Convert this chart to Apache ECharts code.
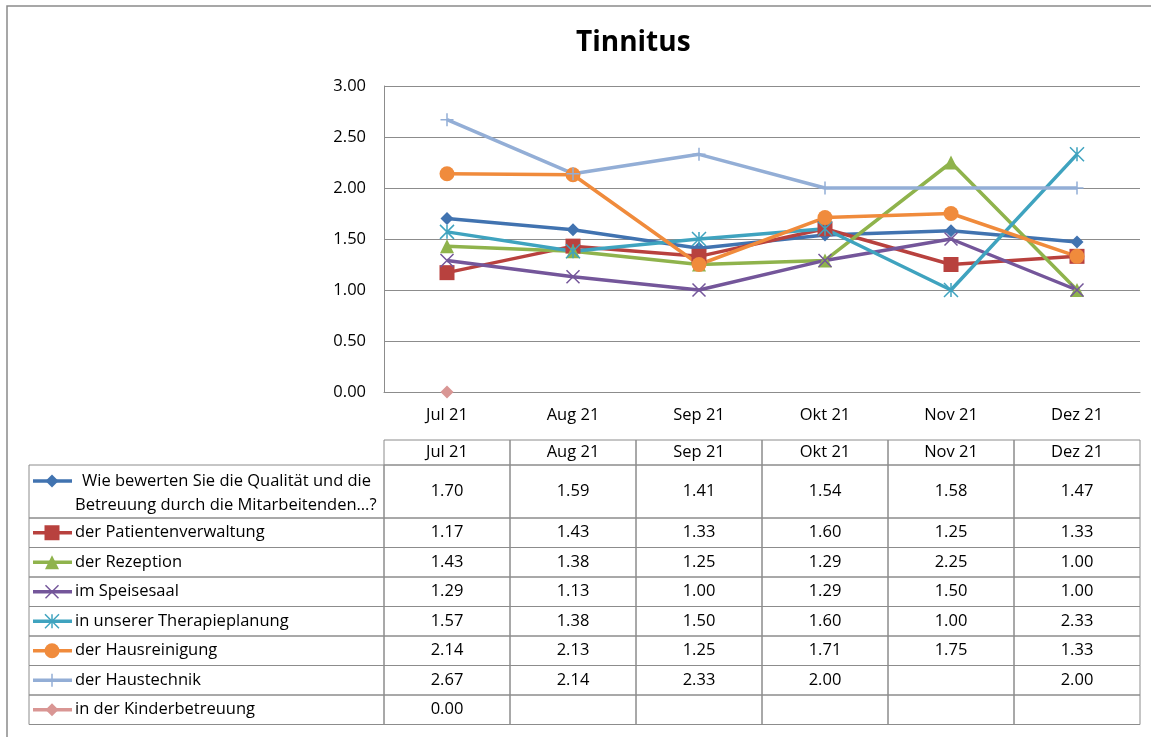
<!DOCTYPE html>
<html>
<head>
<meta charset="utf-8">
<title>Tinnitus</title>
<script src="https://cdn.jsdelivr.net/npm/echarts@6/dist/echarts.min.js"></script>
<style>
    html, body { margin: 0; padding: 0; background: #fff; }
    #main { width: 1151px; height: 737px; }
</style>
</head>
<body>
<div id="main"></div>
<script>
// Daten
var months = ['Jul 21', 'Aug 21', 'Sep 21', 'Okt 21', 'Nov 21', 'Dez 21'];
var seriesNames = [
    'Wie bewerten Sie die Qualität und die Betreuung durch die Mitarbeitenden…?',
    'der Patientenverwaltung',
    'der Rezeption',
    'im Speisesaal',
    'in unserer Therapieplanung',
    'der Hausreinigung',
    'der Haustechnik',
    'in der Kinderbetreuung'
];
var qualitaet        = [1.70, 1.59, 1.41, 1.54, 1.58, 1.47];
var patienten        = [1.17, 1.43, 1.33, 1.60, 1.25, 1.33];
var rezeption        = [1.43, 1.38, 1.25, 1.29, 2.25, 1.00];
var speisesaal       = [1.29, 1.13, 1.00, 1.29, 1.50, 1.00];
var therapie         = [1.57, 1.38, 1.50, 1.60, 1.00, 2.33];
var hausreinigung    = [2.14, 2.13, 1.25, 1.71, 1.75, 1.33];
var haustechnik      = [2.67, 2.14, 2.33, 2.00, null, 2.00];
var kinderbetreuung  = [0.00, null, null, null, null, null];

var allData = [qualitaet, patienten, rezeption, speisesaal, therapie, hausreinigung, haustechnik, kinderbetreuung];

// Stil
var colors = ['#4173B0', '#B8413E', '#8FB34C', '#74569A', '#3FA3BF', '#F08B3C', '#93AED6', '#D99694'];
var kinds  = ['diamond', 'square', 'triangle', 'cross', 'star', 'circle', 'plus', 'diamond'];
var sizes  = [13, 15, 14, 13, 14, 15, 13, 13];
var FONT = 'Open Sans';
var FS = 16.5;
var GRAY = '#8c8c8c';

var symbolMap = {
    diamond: 'diamond',
    square: 'rect',
    triangle: 'triangle',
    circle: 'circle',
    cross: 'path://M0,0L10,10M10,0L0,10',
    star: 'path://M0,0L10,10M10,0L0,10M5,0L5,10',
    plus: 'path://M5,0L5,10M0,5L10,5'
};

var chart = echarts.init(document.getElementById('main'));

var series = [];
for (var i = 0; i < seriesNames.length; i++) {
    var open = (kinds[i] === 'cross' || kinds[i] === 'star' || kinds[i] === 'plus');
    series.push({
        name: seriesNames[i],
        type: 'line',
        data: allData[i],
        connectNulls: true,
        symbol: symbolMap[kinds[i]],
        symbolSize: sizes[i],
        showAllSymbol: true,
        lineStyle: { color: colors[i], width: 3.5 },
        itemStyle: { color: colors[i], borderColor: colors[i], borderWidth: open ? 1.5 : 0 },
        emphasis: { disabled: true }
    });
}

var option = {
    animation: false,
    backgroundColor: '#fff',
    title: {
        text: 'Tinnitus',
        left: 571,
        top: 24,
        textStyle: { fontFamily: FONT, fontSize: 28, fontWeight: 'bold', color: '#000' }
    },
    grid: { left: 384, right: 11, top: 86, height: 306 },
    xAxis: {
        type: 'category',
        data: months,
        axisLine: { show: true, lineStyle: { color: GRAY, width: 1 } },
        axisTick: { show: false },
        axisLabel: { margin: 15, color: '#000', fontFamily: FONT, fontSize: FS }
    },
    yAxis: {
        type: 'value',
        min: 0,
        max: 3,
        interval: 0.5,
        axisLine: { show: true, lineStyle: { color: GRAY, width: 1 } },
        axisTick: { show: false },
        splitLine: { lineStyle: { color: GRAY, width: 1 } },
        axisLabel: {
            margin: 18, color: '#000', fontFamily: FONT, fontSize: FS,
            formatter: function (v) { return v.toFixed(2); }
        }
    },
    series: series
};

chart.setOption(option);

// Datentabelle unter dem Diagramm
function legendSymbol(kind, cx, cy, s, color) {
    var h = s / 2;
    var st = { stroke: color, lineWidth: 1.5 };
    if (kind === 'diamond') {
        return [{ type: 'polygon', shape: { points: [[cx, cy - h], [cx + h, cy], [cx, cy + h], [cx - h, cy]] }, style: { fill: color } }];
    }
    if (kind === 'square') {
        return [{ type: 'rect', shape: { x: cx - h, y: cy - h, width: s, height: s }, style: { fill: color } }];
    }
    if (kind === 'triangle') {
        return [{ type: 'polygon', shape: { points: [[cx, cy - h], [cx + h, cy + h], [cx - h, cy + h]] }, style: { fill: color } }];
    }
    if (kind === 'circle') {
        return [{ type: 'circle', shape: { cx: cx, cy: cy, r: h }, style: { fill: color } }];
    }
    var out = [];
    if (kind === 'cross' || kind === 'star') {
        out.push({ type: 'line', shape: { x1: cx - h, y1: cy - h, x2: cx + h, y2: cy + h }, style: st });
        out.push({ type: 'line', shape: { x1: cx + h, y1: cy - h, x2: cx - h, y2: cy + h }, style: st });
    }
    if (kind === 'star' || kind === 'plus') {
        out.push({ type: 'line', shape: { x1: cx, y1: cy - h, x2: cx, y2: cy + h }, style: st });
    }
    return out;
}

function buildTable() {
    var c0 = chart.convertToPixel({ xAxisIndex: 0 }, months[0]);
    var c1 = chart.convertToPixel({ xAxisIndex: 0 }, months[1]);
    var band = c1 - c0;
    var colLeft = c0 - band / 2;
    var legendLeft = 29;
    var headerTop = 440, headerH = 25;
    var rowH = [53, 29.5, 29.5, 29.5, 29.5, 29.5, 29.5, 29.5];
    var border = { fill: 'none', stroke: GRAY, lineWidth: 1 };
    var txt = { fontFamily: FONT, fontSize: FS, fill: '#000' };
    var els = [];

    // Rahmen des Diagramms
    els.push({ type: 'rect', shape: { x: 7, y: 6, width: 1160, height: 760 }, style: { fill: 'none', stroke: '#8a8a8a', lineWidth: 1.5 } });

    for (var m = 0; m < months.length; m++) {
        var x = colLeft + m * band;
        els.push({ type: 'rect', shape: { x: x, y: headerTop, width: band, height: headerH }, style: border });
        els.push({ type: 'text', x: x + band / 2, y: headerTop + headerH / 2,
            style: echarts.util.extend({ text: months[m], align: 'center', verticalAlign: 'middle' }, txt) });
    }

    var y = headerTop + headerH;
    for (var r = 0; r < seriesNames.length; r++) {
        var h = rowH[r];
        els.push({ type: 'rect', shape: { x: legendLeft, y: y, width: colLeft - legendLeft, height: h }, style: border });
        var my = (r === 0) ? y + 16 : y + h / 2;
        els.push({ type: 'line', shape: { x1: 33, y1: my, x2: 72, y2: my }, style: { stroke: colors[r], lineWidth: 3.5 } });
        els = els.concat(legendSymbol(kinds[r], 52, my, sizes[r], colors[r]));
        if (r === 0) {
            els.push({ type: 'text', x: 82, y: y + 16,
                style: echarts.util.extend({ text: 'Wie bewerten Sie die Qualität und die', align: 'left', verticalAlign: 'middle' }, txt) });
            els.push({ type: 'text', x: 75, y: y + 40,
                style: echarts.util.extend({ text: 'Betreuung durch die Mitarbeitenden…?', align: 'left', verticalAlign: 'middle' }, txt) });
        } else {
            els.push({ type: 'text', x: 75, y: y + h / 2,
                style: echarts.util.extend({ text: seriesNames[r], align: 'left', verticalAlign: 'middle' }, txt) });
        }
        for (var k = 0; k < months.length; k++) {
            var cx = colLeft + k * band;
            els.push({ type: 'rect', shape: { x: cx, y: y, width: band, height: h }, style: border });
            var v = allData[r][k];
            if (v !== null) {
                els.push({ type: 'text', x: cx + band / 2, y: y + h / 2,
                    style: echarts.util.extend({ text: v.toFixed(2), align: 'center', verticalAlign: 'middle' }, txt) });
            }
        }
        y += h;
    }
    chart.setOption({ graphic: els });
}

buildTable();
</script>
</body>
</html>
